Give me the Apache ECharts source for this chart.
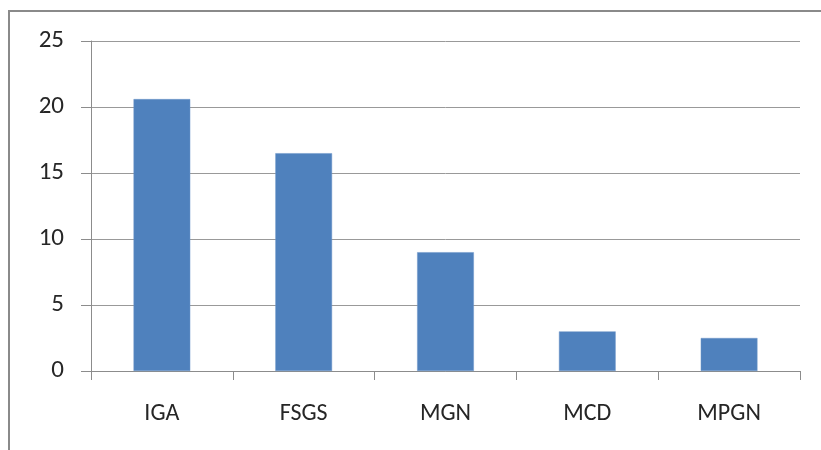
<!DOCTYPE html>
<html>
<head>
<meta charset="utf-8">
<script src="https://cdn.jsdelivr.net/npm/echarts@6/dist/echarts.min.js"></script>
<style>
html,body{margin:0;padding:0;background:#fff;}
#c{width:821px;height:450px;}
</style>
</head>
<body>
<div id="c"></div>
<script>
var categories = ["IGA", "FSGS", "MGN", "MCD", "MPGN"];
var values = [20.6, 16.5, 9, 3, 2.5];
var yTicks = [0, 5, 10, 15, 20, 25];

var chart = echarts.init(document.getElementById('c'), null, {renderer: 'canvas'});
chart.setOption({
  animation: false,
  backgroundColor: '#ffffff',
  textStyle: {fontFamily: "Carlito, 'Open Sans', sans-serif"},
  graphic: [{
    type: 'rect',
    shape: {x: 9, y: 11, width: 900, height: 600},
    style: {fill: 'none', stroke: '#8a8a8a', lineWidth: 2},
    silent: true
  }],
  grid: {left: 91, right: 21, top: 41, bottom: 79, containLabel: false},
  xAxis: {
    type: 'category',
    data: categories,
    axisLine: {show: true, lineStyle: {color: '#8c8c8c', width: 1}},
    axisTick: {show: true, length: 9, alignWithLabel: false, lineStyle: {color: '#8c8c8c'}},
    axisLabel: {color: '#262626', fontSize: 24, margin: 31, fontFamily: "Carlito, 'Open Sans', sans-serif"},
    splitLine: {show: false}
  },
  yAxis: {
    type: 'value',
    min: yTicks[0],
    max: yTicks[yTicks.length - 1],
    interval: 5,
    axisLine: {show: true, lineStyle: {color: '#8c8c8c', width: 1}},
    axisTick: {show: true, length: 10, lineStyle: {color: '#8c8c8c'}},
    axisLabel: {color: '#262626', fontSize: 25, margin: 27, fontFamily: "Carlito, 'Open Sans', sans-serif"},
    splitLine: {show: true, lineStyle: {color: '#999999', width: 1}}
  },
  series: [{
    type: 'bar',
    data: values,
    barCategoryGap: '60%',
    itemStyle: {color: '#4f81bd', borderColor: '#6f96c8', borderWidth: 0.5}
  }]
});
</script>
</body>
</html>
